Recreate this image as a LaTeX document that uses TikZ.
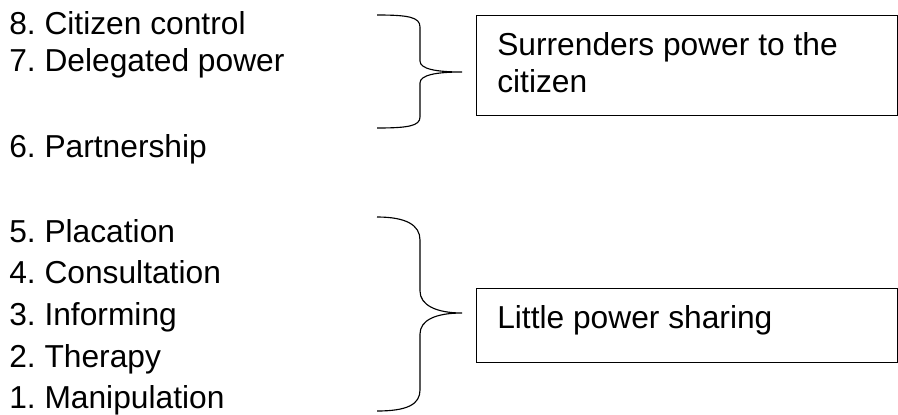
\documentclass[tikz,border=0pt]{standalone}
\usepackage{fontspec}
\setmainfont{Liberation Sans}
\begin{document}
\frenchspacing
\begin{tikzpicture}[x=0.75pt,y=-0.75pt,
  lvl/.style={anchor=base west, inner sep=0pt, font=\fontsize{23.8}{28}\selectfont},
  boxtxt/.style={anchor=base west, inner sep=0pt, font=\fontsize{23.8}{28}\selectfont},
  box/.style={draw, line width=0.8pt, anchor=north west, inner sep=0pt},
  brace/.style={draw, line width=0.85pt}]
\useasboundingbox (0,0) rectangle (898,414);
% ladder levels
\node[lvl] (l8) at (9,34) {8. Citizen control};
\node[lvl] (l7) at (9,71) {7. Delegated power};
\node[lvl] (l6) at (9,157) {6. Partnership};
\node[lvl] (l5) at (9,242) {5. Placation};
\node[lvl] (l4) at (9,283) {4. Consultation};
\node[lvl] (l3) at (9,325) {3. Informing};
\node[lvl] (l2) at (9,367) {2. Therapy};
\node[lvl] (l1) at (9,408) {1. Manipulation};
% boxes
\node[box, minimum width=315.75pt, minimum height=75pt] (b1) at (476,15) {};
\node[boxtxt] (t1a) at (497,55) {Surrenders power to the};
\node[boxtxt] (t1b) at (497,92) {citizen};
\node[box, minimum width=315.75pt, minimum height=55.5pt] (b2) at (476,288) {};
\node[boxtxt] (t2) at (497,328) {Little power sharing};
% brace tips
\coordinate (tip1) at (462,72);
\coordinate (tip2) at (462,313);
% upper brace
\draw[brace] (377,15) .. controls (408,15) and (420,17) .. (420,27) -- (420,61)
  .. controls (420,69) and (436,72) .. (tip1)
  .. controls (436,72) and (420,75) .. (420,83) -- (420,117)
  .. controls (420,126) and (408,128) .. (377,128);
% lower brace
\draw[brace] (377,217) .. controls (406,217) and (420,225) .. (420,240) -- (420,291)
  .. controls (420,305) and (436,313) .. (tip2)
  .. controls (436,313) and (420,320) .. (420,334) -- (420,390)
  .. controls (420,404) and (408,411) .. (377,411);
\end{tikzpicture}
\end{document}
